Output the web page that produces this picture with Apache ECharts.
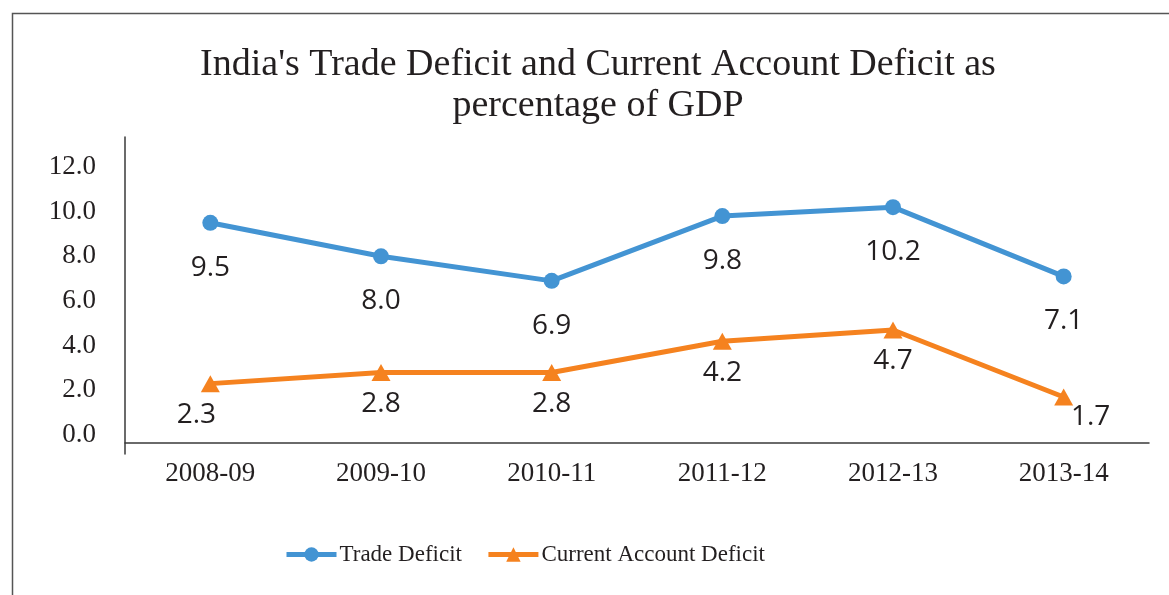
<!DOCTYPE html>
<html>
<head>
<meta charset="utf-8">
<title>India's Trade Deficit and Current Account Deficit</title>
<script src="https://cdn.jsdelivr.net/npm/echarts@6/dist/echarts.min.js"></script>
<style>
  html, body { margin: 0; padding: 0; background: #fff; }
  #chart { width: 1169px; height: 595px; }
</style>
</head>
<body>
<div id="chart"></div>
<script>
// data
var years = ['2008-09', '2009-10', '2010-11', '2011-12', '2012-13', '2013-14'];
var tradeDeficit = [9.5, 8.0, 6.9, 9.8, 10.2, 7.1];
var currentAccountDeficit = [2.3, 2.8, 2.8, 4.2, 4.7, 1.7];
var yTicks = [0, 2, 4, 6, 8, 10, 12];

var serif = '"Liberation Serif", "Times New Roman", serif';
var sans = '"Open Sans", "Noto Sans", sans-serif';
var ink = '#231f20';

// a few labels were nudged by hand in the original
var cadLabelOffsets = { 0: [-14, 0], 5: [27, -12] };

function fmt(p) {
  return p.value.toFixed(1);
}

var myChart = echarts.init(document.getElementById('chart'));
var option = {
  backgroundColor: '#fff',
  animation: false,
  title: {
    text: "India's Trade Deficit and Current Account Deficit as\npercentage of GDP",
    left: 598,
    top: 45,
    textAlign: 'center',
    padding: 0,
    textStyle: {
      fontFamily: serif,
      fontWeight: 'normal',
      fontSize: 38,
      lineHeight: 41,
      color: ink
    }
  },
  graphic: [
    {
      // outer chart frame, clipped by the picture on the right and bottom
      type: 'rect',
      left: 10,
      top: 11,
      shape: { width: 1300, height: 700 },
      style: { fill: 'none', stroke: '#555', lineWidth: 1.5 },
      silent: true
    }
  ],
  legend: {
    left: 279,
    top: 538,
    itemWidth: 50,
    itemHeight: 18,
    itemGap: 24,
    lineStyle: { width: 5 },
    textStyle: { fontFamily: serif, fontSize: 23, color: ink, padding: [0, 0, 0, -2] },
    data: ['Trade Deficit', 'Current Account Deficit']
  },
  grid: {
    left: 125,
    right: 20,
    top: 137,
    bottom: 141
  },
  xAxis: {
    type: 'category',
    data: years,
    boundaryGap: true,
    offset: -11,
    axisLine: { onZero: false, lineStyle: { color: '#3a3a3a', width: 1.5 } },
    axisTick: { show: false },
    axisLabel: {
      margin: 17,
      fontFamily: serif,
      fontSize: 27,
      color: ink
    }
  },
  yAxis: {
    type: 'value',
    min: -0.85,
    max: 13.34,
    splitLine: { show: false },
    axisLine: { show: true, lineStyle: { color: '#3a3a3a', width: 1.5 } },
    axisTick: { show: false },
    axisLabel: {
      customValues: yTicks,
      margin: 29,
      fontFamily: serif,
      fontSize: 27,
      color: ink,
      formatter: function (v) { return v.toFixed(1); }
    }
  },
  series: [
    {
      name: 'Trade Deficit',
      type: 'line',
      data: tradeDeficit,
      symbol: 'circle',
      symbolSize: 16,
      lineStyle: { width: 5, color: '#4394d3' },
      itemStyle: { color: '#4394d3' },
      label: {
        show: true,
        position: 'bottom',
        distance: 23,
        fontFamily: sans,
        fontSize: 28,
        color: ink,
        formatter: fmt
      }
    },
    {
      name: 'Current Account Deficit',
      type: 'line',
      data: currentAccountDeficit.map(function (v, i) {
        var item = { value: v };
        if (cadLabelOffsets[i]) {
          item.label = { offset: cadLabelOffsets[i] };
        }
        return item;
      }),
      symbol: 'triangle',
      symbolSize: [19, 17],
      lineStyle: { width: 5, color: '#f5821f' },
      itemStyle: { color: '#f5821f' },
      label: {
        show: true,
        position: 'bottom',
        distance: 9,
        fontFamily: sans,
        fontSize: 28,
        color: ink,
        formatter: fmt
      }
    }
  ]
};
myChart.setOption(option);
</script>
</body>
</html>
